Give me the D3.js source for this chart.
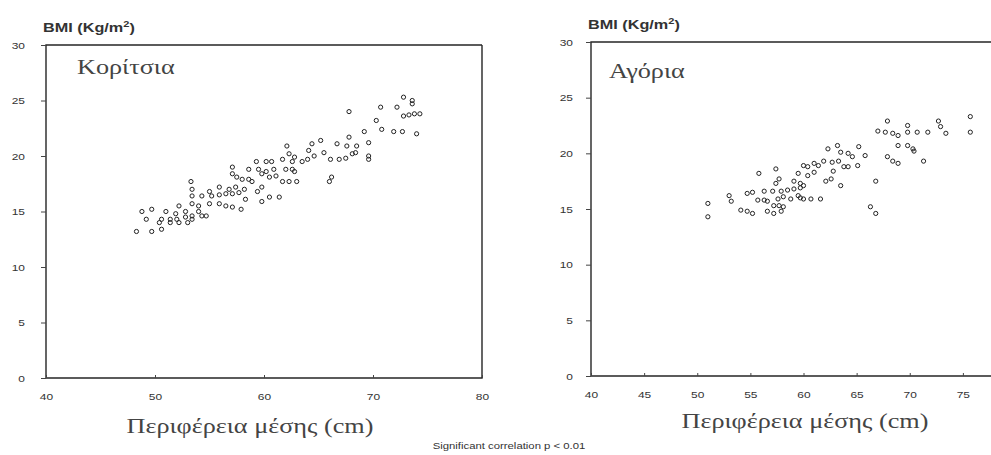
<!DOCTYPE html>
<html lang="el">
<head>
<meta charset="UTF-8">
<title>BMI - Περιφέρεια μέσης</title>
<script src="https://cdnjs.cloudflare.com/ajax/libs/d3/7.8.5/d3.min.js"></script>
<style>
  body { margin: 0; background: #fff; }
  .tick text { font-family: "Liberation Sans", Arial, sans-serif; font-size: 9.8px; fill: #333; }
  .tick line { stroke: #444; }
  .domain { display: none; }
</style>
</head>
<body>
<div id="chart"></div>
<script>
// Κορίτσια: waist (cm) / BMI
var girlsWaist = [72.8,73.6,73.6,70.7,72.2,67.8,72.8,73.3,73.8,74.3,70.3,70.8,71.9,72.7,74.0,69.2,67.8,69.6,66.7,67.6,
  68.5,65.2,64.4,62.1,64.1,65.5,64.6,64.0,63.5,68.1,68.4,66.9,67.5,69.6,69.6,62.3,62.8,61.7,66.1,62.6,
  59.3,60.2,60.7,58.6,59.5,60.2,60.9,62.0,62.6,62.8,59.8,60.5,61.1,57.1,57.1,57.5,58.0,58.6,58.9,61.7,
  62.3,63.0,66.2,66.0,59.8,59.4,53.3,53.4,55.0,55.9,56.8,57.4,58.2,53.4,54.3,55.2,55.9,56.5,57.1,57.7,
  58.3,59.8,60.5,61.4,53.4,54.0,55.0,55.9,56.5,57.1,57.9,52.2,48.8,49.7,51.0,51.9,52.8,54.0,54.7,53.4,
  49.2,50.6,51.4,52.0,52.8,53.4,54.3,48.3,49.7,50.6,50.4,51.4,52.2,53.0];
var girlsBmi = [25.3,25.0,24.7,24.4,24.4,24.0,23.6,23.7,23.8,23.8,23.2,22.4,22.2,22.2,22.0,22.2,21.7,21.2,21.1,20.9,
  20.9,21.4,21.1,20.9,20.5,20.3,20.0,19.7,19.5,20.2,20.3,19.7,19.8,20.0,19.7,20.2,19.9,19.7,19.7,19.5,
  19.5,19.5,19.5,18.8,18.8,18.6,18.8,18.8,18.8,18.6,18.4,18.1,18.2,19.0,18.4,18.1,17.9,17.9,17.7,17.7,
  17.7,17.7,18.1,17.7,17.2,16.8,17.7,17.0,16.8,17.2,17.0,17.2,17.0,16.4,16.4,16.4,16.5,16.6,16.6,16.7,
  16.1,15.9,16.3,16.3,15.7,15.5,15.7,15.7,15.5,15.4,15.2,15.5,15.0,15.2,15.0,14.8,15.0,15.0,14.6,14.3,
  14.3,14.3,14.3,14.3,14.5,14.6,14.6,13.2,13.2,13.4,14.0,14.0,14.0,14.0];

// Αγόρια: waist (cm) / BMI
var boysWaist = [67.9,67.0,67.7,68.4,68.9,69.8,70.7,71.7,69.8,72.7,72.9,73.4,75.7,75.7,68.9,69.8,70.3,70.4,71.3,67.9,
  68.4,68.9,66.8,66.3,66.8,63.2,65.2,62.3,63.5,64.2,64.6,65.8,61.9,62.7,63.3,61.0,61.4,60.0,60.4,64.2,
  65.1,62.8,63.8,59.5,60.4,61.0,62.1,62.6,63.5,57.4,55.8,57.7,57.4,59.1,59.7,60.0,56.3,57.1,57.9,58.5,
  59.1,59.7,54.7,55.2,55.7,56.3,56.6,57.6,58.1,58.8,59.5,59.7,60.0,60.7,61.6,57.2,57.7,58.1,53.2,53.0,
  54.1,54.7,55.2,56.6,57.2,57.9,51.0,51.0];
var boysBmi = [22.9,22.0,21.9,21.8,21.6,21.9,21.9,21.9,22.5,22.9,22.4,21.8,23.3,21.9,20.7,20.7,20.4,20.2,19.3,19.7,
  19.3,19.1,17.5,15.2,14.6,20.7,20.6,20.4,20.1,20.0,19.7,19.8,19.3,19.2,19.3,19.1,18.9,18.9,18.8,18.8,
  18.9,18.4,18.8,18.2,18.0,18.3,17.5,17.7,17.1,18.6,18.2,17.7,17.3,17.5,17.3,17.1,16.6,16.6,16.6,16.7,
  16.8,16.9,16.4,16.5,15.8,15.8,15.7,15.9,16.1,15.9,16.2,16.0,15.9,15.9,15.9,15.3,15.3,15.2,15.7,16.2,
  14.9,14.8,14.6,14.8,14.6,14.8,15.5,14.3];

var yTicks = [0, 5, 10, 15, 20, 25, 30];
var girlsXTicks = [40, 50, 60, 70, 80];
var boysXTicks = [40, 45, 50, 55, 60, 65, 70, 75];

var width = 991, height = 455;
var stretch = 1.22;   // the scanned original is wider than tall

var svg = d3.select("#chart").append("svg")
    .attr("width", width)
    .attr("height", height);

// text stretched horizontally around its anchor point
function wideText(parent, x, y, s) {
    return parent.append("text")
        .attr("transform", "translate(" + x + "," + y + ") scale(" + (s || stretch) + ",1)");
}

function stretchTicks(sel) {
    sel.selectAll(".tick text").each(function () {
        var t = d3.select(this);
        var tx = +t.attr("x") || 0, ty = +t.attr("y") || 0;
        t.attr("x", 0).attr("y", 0)
            .attr("transform", "translate(" + tx + "," + ty + ") scale(" + stretch + ",1)");
    });
}

function drawPanel(opt) {
    var x = d3.scaleLinear().domain([40, 80]).range(opt.xRange);
    var y = d3.scaleLinear().domain([0, 30]).range(opt.yRange);
    var g = svg.append("g");

    var x0 = x(40), x1 = x(80), yb = y(0), yt = y(30);
    var frame = "M" + x1 + "," + yt + "H" + x0 + "V" + yb + "H" + x1;
    if (opt.closed) frame += "V" + yt;
    g.append("path")
        .attr("d", frame)
        .attr("fill", "none")
        .attr("stroke", "#262626")
        .attr("stroke-width", 1.4);

    g.append("g")
        .attr("transform", "translate(" + x0 + ",0)")
        .call(d3.axisLeft(y).tickValues(yTicks).tickSize(5).tickPadding(opt.yPad))
        .call(stretchTicks);

    g.append("g")
        .attr("transform", "translate(0," + yb + ")")
        .call(d3.axisBottom(x).tickValues(opt.xTicks).tickSize(-3).tickPadding(15))
        .call(stretchTicks);

    g.append("g").selectAll("circle")
        .data(opt.xs)
        .enter()
        .append("circle")
        .attr("cx", function (d) { return x(d); })
        .attr("cy", function (d, i) { return y(opt.ys[i]); })
        .attr("r", 2.1)
        .attr("fill", "none")
        .attr("stroke", "#222")
        .attr("stroke-width", 1);

    var lab = wideText(g, x0 - 3, yt - 13, 1.3)
        .attr("font-family", "Liberation Sans, Arial, sans-serif")
        .attr("font-weight", "bold")
        .attr("font-size", 12.5)
        .attr("fill", "#333")
        .text("BMI (Kg/m");
    lab.append("tspan").attr("dy", -5).attr("font-size", 8.5).text("2");
    lab.append("tspan").attr("dy", 5).text(")");

    wideText(g, opt.titleX, opt.titleY)
        .attr("font-family", "Liberation Serif, Times New Roman, serif")
        .attr("font-size", 21.5)
        .attr("fill", "#444")
        .text(opt.title);

    wideText(g, opt.xTitleX, opt.xTitleY)
        .attr("text-anchor", "middle")
        .attr("font-family", "Liberation Serif, Times New Roman, serif")
        .attr("font-size", 21.5)
        .attr("fill", "#444")
        .text("Περιφέρεια μέσης (cm)");
}

drawPanel({
    xRange: [46, 482], yRange: [378, 45], closed: true, yPad: 16,
    xTicks: girlsXTicks, xs: girlsWaist, ys: girlsBmi,
    title: "Κορίτσια", titleX: 77, titleY: 74, xTitleX: 250, xTitleY: 433
});

drawPanel({
    xRange: [591, 1016], yRange: [376, 42], closed: false, yPad: 13,
    xTicks: boysXTicks, xs: boysWaist, ys: boysBmi,
    title: "Αγόρια", titleX: 609, titleY: 78, xTitleX: 805, xTitleY: 428
});

wideText(svg, 509, 449)
    .attr("text-anchor", "middle")
    .attr("font-family", "Liberation Sans, Arial, sans-serif")
    .attr("font-size", 9.3)
    .attr("fill", "#333")
    .text("Significant correlation p < 0.01");
</script>
</body>
</html>
